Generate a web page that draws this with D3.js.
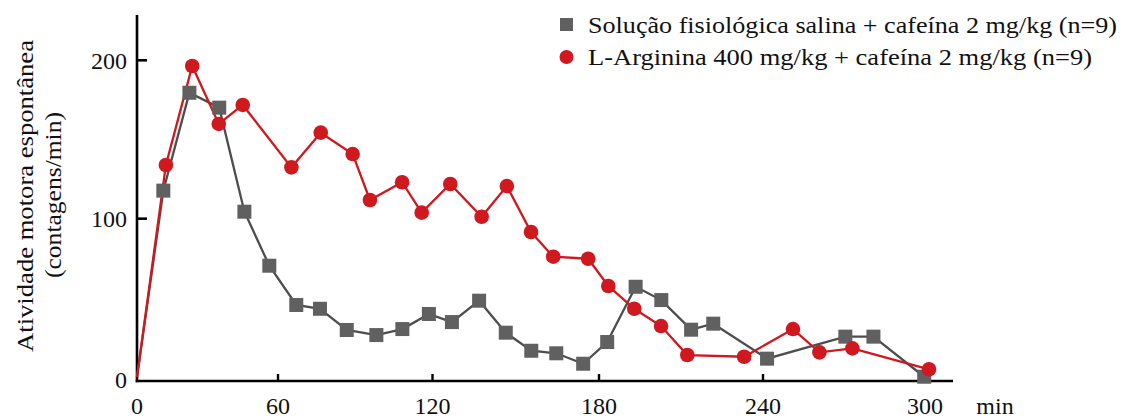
<!DOCTYPE html>
<html>
<head>
<meta charset="utf-8">
<script src="https://cdn.jsdelivr.net/npm/d3@7"></script>
<style>
  html, body { margin: 0; padding: 0; background: #fff; }
  svg { display: block; }
  text { font-family: "Liberation Serif", "DejaVu Serif", serif; fill: #111; }
</style>
</head>
<body>
<svg id="chart" width="1126" height="419"></svg>
<script>
// ---- Data (minutes, contagens/min) ----
const salinaTime   = [0, 11.2, 22.3, 35.0, 45.7, 56.3, 67.1, 76.3, 86.7, 98.2, 108.3, 118.6, 127.0, 136.8, 146.4, 155.6, 164.6, 174.3, 183.0, 193.4, 202.8, 213.7, 221.8, 241.5, 270.5, 280.9, 299.7];
const salinaValue  = [0, 117.7, 179.5, 170.1, 104.4, 70.3, 45.5, 43.1, 29.7, 26.5, 30.3, 39.8, 34.7, 48.2, 28.0, 16.6, 15.0, 8.4, 22.1, 57.0, 48.6, 29.9, 33.7, 11.6, 25.5, 25.5, 0.2];

const argininaTime  = [0, 12.3, 23.5, 34.8, 45.0, 65.2, 76.6, 89.0, 95.7, 108.2, 115.8, 126.4, 137.7, 146.8, 155.5, 163.5, 176.1, 183.4, 192.9, 202.7, 212.3, 233.1, 251.1, 260.9, 273.1, 301.5];
const argininaValue = [0, 133.9, 196.4, 159.8, 171.8, 132.4, 154.3, 140.8, 111.8, 123.0, 103.8, 121.9, 101.2, 120.6, 91.6, 76.0, 74.7, 57.5, 43.1, 32.2, 13.9, 12.8, 30.3, 15.6, 18.1, 4.9];

const xTicks = [0, 60, 120, 180, 240, 300];
const yTicks = [0, 100, 200];

const seriesNames = [
  "Solução fisiológica salina + cafeína 2 mg/kg (n=9)",
  "L-Arginina 400 mg/kg + cafeína 2 mg/kg (n=9)"
];
const yTitle = ["Atividade motora espontânea", "(contagens/min)"];
const xUnit = "min";

// ---- Layout ----
const svg = d3.select("#chart");
const grayFill = "#606060", grayLine = "#4d4d4d", red = "#d0181f";
const fs = 24;

// original axis is not uniformly spaced; piecewise linear scale reproduces it
const x = d3.scaleLinear()
  .domain(xTicks)
  .range([137, 278, 432.5, 599, 763, 925]);
const y = d3.scaleLinear().domain([-2.5, 228.6]).range([381, 15]);

const axisY0 = 381, axisX0 = 137, axisXEnd = 953;

// axes lines
svg.append("line").attr("x1", axisX0).attr("x2", axisX0).attr("y1", 15).attr("y2", axisY0 + 1.2)
  .attr("stroke", "#000").attr("stroke-width", 2.6);
svg.append("line").attr("x1", axisX0 - 1.3).attr("x2", axisXEnd).attr("y1", axisY0).attr("y2", axisY0)
  .attr("stroke", "#000").attr("stroke-width", 2.6);

// y ticks (inside)
const gy = svg.append("g");
gy.selectAll("line").data(yTicks.filter(d => d > 0)).join("line")
  .attr("x1", axisX0).attr("x2", axisX0 + 10)
  .attr("y1", d => y(d)).attr("y2", d => y(d))
  .attr("stroke", "#000").attr("stroke-width", 2.6);
gy.selectAll("text").data(yTicks).join("text")
  .attr("x", 127).attr("y", d => d === 0 ? y(d) + 3 : y(d))
  .attr("dy", "0.35em").attr("text-anchor", "end")
  .attr("font-size", fs).text(d => d);

// x ticks (inside, upward)
const gx = svg.append("g");
gx.selectAll("line").data(xTicks.filter(d => d > 0)).join("line")
  .attr("x1", d => x(d)).attr("x2", d => x(d))
  .attr("y1", axisY0).attr("y2", axisY0 - 7)
  .attr("stroke", "#000").attr("stroke-width", 2.4);
gx.selectAll("text").data(xTicks).join("text")
  .attr("x", d => x(d)).attr("y", 414)
  .attr("text-anchor", "middle").attr("font-size", fs).text(d => d);
svg.append("text").attr("x", 995).attr("y", 414).attr("text-anchor", "middle")
  .attr("font-size", fs).text(xUnit);

// y title
svg.append("text").attr("transform", "translate(33,196) rotate(-90)")
  .attr("text-anchor", "middle").attr("font-size", fs)
  .attr("textLength", 312).attr("lengthAdjust", "spacingAndGlyphs").text(yTitle[0]);
svg.append("text").attr("transform", "translate(61,195) rotate(-90)")
  .attr("text-anchor", "middle").attr("font-size", fs)
  .attr("textLength", 166).attr("lengthAdjust", "spacingAndGlyphs").text(yTitle[1]);

// ---- Series ----
const line = d3.line().x(d => x(d[0])).y(d => y(d[1]));
const salina = salinaTime.map((t, i) => [t, salinaValue[i]]);
const arginina = argininaTime.map((t, i) => [t, argininaValue[i]]);

svg.append("path").datum(salina).attr("d", line)
  .attr("fill", "none").attr("stroke", grayLine).attr("stroke-width", 2.3);
svg.append("path").datum(arginina).attr("d", line)
  .attr("fill", "none").attr("stroke", red).attr("stroke-width", 2.3);

const sq = 14;
svg.append("g").selectAll("rect").data(salina.slice(1)).join("rect")
  .attr("x", d => x(d[0]) - sq / 2).attr("y", d => y(d[1]) - sq / 2)
  .attr("width", sq).attr("height", sq).attr("fill", grayFill);
svg.append("g").selectAll("circle").data(arginina.slice(1)).join("circle")
  .attr("cx", d => x(d[0])).attr("cy", d => y(d[1])).attr("r", 7.3)
  .attr("fill", red);

// ---- Legend ----
const lg = svg.append("g");
lg.append("rect").attr("x", 560).attr("y", 18).attr("width", 13).attr("height", 13).attr("fill", grayFill);
lg.append("circle").attr("cx", 566.5).attr("cy", 57).attr("r", 7).attr("fill", red);
lg.append("text").attr("x", 588).attr("y", 33).attr("font-size", fs)
  .attr("textLength", 529).attr("lengthAdjust", "spacingAndGlyphs").text(seriesNames[0]);
lg.append("text").attr("x", 588).attr("y", 65).attr("font-size", fs)
  .attr("textLength", 504).attr("lengthAdjust", "spacingAndGlyphs").text(seriesNames[1]);
</script>
</body>
</html>
